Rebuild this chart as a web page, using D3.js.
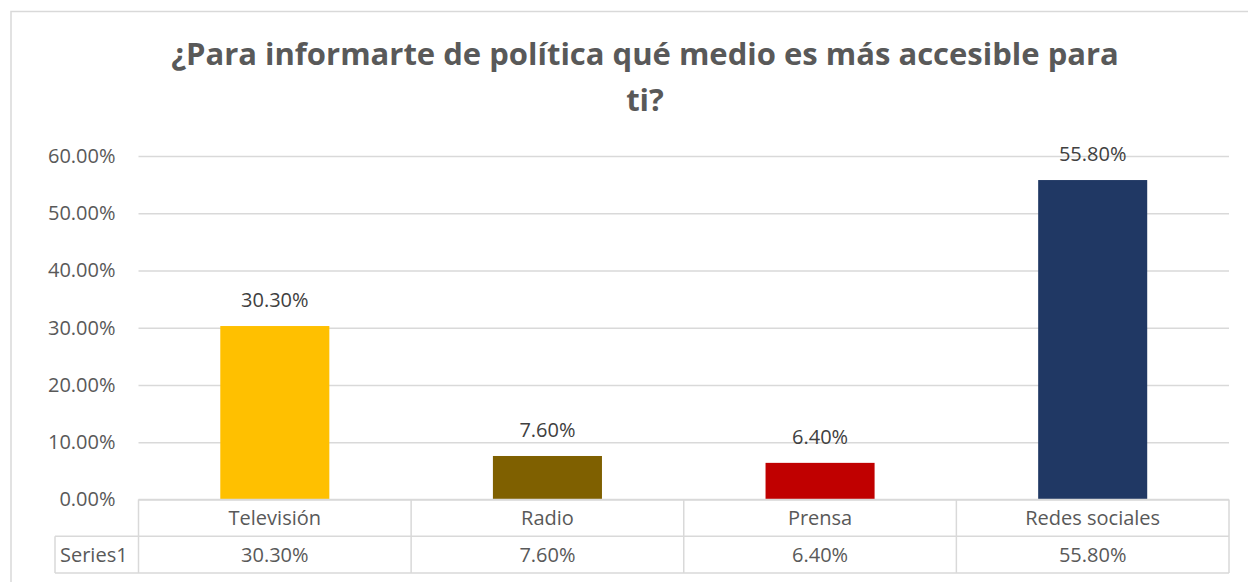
<!DOCTYPE html>
<html>
<head>
<meta charset="utf-8">
<script src="https://cdn.jsdelivr.net/npm/d3@7"></script>
<style>
  body { margin: 0; background: #fff; }
  text { font-family: "Open Sans", "Liberation Sans", sans-serif; }
</style>
</head>
<body>
<div id="chart"></div>
<script>
var categories = ["Televisión", "Radio", "Prensa", "Redes sociales"];
var values = [30.3, 7.6, 6.4, 55.8];
var barColors = ["#FFC000", "#7F6000", "#C00000", "#203864"];
var yTicks = [0, 10, 20, 30, 40, 50, 60];
var seriesName = "Series1";
var titleLines = ["¿Para informarte de política qué medio es más accesible para", "ti?"];

var svgWidth = 1248;
var svgHeight = 582;

var plot = { left: 138.5, right: 1229, top: 156, bottom: 499.5 };
var rowH = 36.75;
var seriesCellLeft = 55;
var grid = "#D9D9D9";

var svg = d3.select("#chart").append("svg").attr("width", svgWidth).attr("height", svgHeight);

// chart frame (runs off the right and bottom of the picture)
svg.append("rect").attr("x", 11).attr("y", 11.5).attr("width", 1268).attr("height", 620)
    .attr("fill", "#fff").attr("stroke", grid).attr("stroke-width", 1.5);

// title
var titleCenter = 645;
svg.selectAll(".title").data(titleLines).enter().append("text")
    .attr("class", "title")
    .attr("x", titleCenter)
    .attr("y", (d, i) => 65 + i * 46)
    .attr("text-anchor", "middle")
    .attr("font-size", "31px")
    .attr("font-weight", "bold")
    .attr("fill", "#595959")
    .text(d => d);

var xScale = d3.scaleBand().domain(categories).range([plot.left, plot.right])
    .paddingInner(0.6).paddingOuter(0.3);
var yScale = d3.scaleLinear().domain([0, 60]).range([plot.bottom, plot.top]);

// gridlines + tick labels via the axis
var leftAxis = d3.axisLeft(yScale).tickValues(yTicks)
    .tickSize(-(plot.right - plot.left)).tickPadding(23)
    .tickFormat(d => d.toFixed(2) + "%");

var yAxis = svg.append("g").attr("transform", `translate(${plot.left},0)`).call(leftAxis);
yAxis.select(".domain").remove();
yAxis.selectAll(".tick line").attr("stroke", grid).attr("stroke-width", 1.5);
yAxis.selectAll(".tick text").attr("fill", "#595959").attr("font-size", "20px")
    .attr("font-family", "Open Sans");

// bars
svg.selectAll(".bar").data(values).enter().append("rect")
    .attr("class", "bar")
    .attr("x", (d, i) => xScale(categories[i]))
    .attr("y", d => yScale(d))
    .attr("width", xScale.bandwidth())
    .attr("height", d => yScale(0) - yScale(d))
    .attr("fill", (d, i) => barColors[i]);

// data labels
svg.selectAll(".label").data(values).enter().append("text")
    .attr("class", "label")
    .attr("x", (d, i) => xScale(categories[i]) + xScale.bandwidth() / 2)
    .attr("y", d => yScale(d) - 19)
    .attr("text-anchor", "middle")
    .attr("font-size", "20px")
    .attr("fill", "#404040")
    .text(d => d.toFixed(2) + "%");

// data table under the axis
var step = xScale.step();
var edges = categories.map((c, i) => plot.left + i * step).concat([plot.right]);
var table = svg.append("g");

var hLines = [
    { x1: plot.left, x2: plot.right, y: plot.bottom },
    { x1: seriesCellLeft, x2: plot.right, y: plot.bottom + rowH },
    { x1: seriesCellLeft, x2: plot.right, y: plot.bottom + 2 * rowH }
];
table.selectAll(".hl").data(hLines).enter().append("line")
    .attr("x1", d => d.x1).attr("x2", d => d.x2)
    .attr("y1", d => d.y).attr("y2", d => d.y)
    .attr("stroke", grid).attr("stroke-width", 1.5);

table.selectAll(".vl").data(edges).enter().append("line")
    .attr("x1", d => d).attr("x2", d => d)
    .attr("y1", plot.bottom).attr("y2", plot.bottom + 2 * rowH)
    .attr("stroke", grid).attr("stroke-width", 1.5);

table.append("line")
    .attr("x1", seriesCellLeft).attr("x2", seriesCellLeft)
    .attr("y1", plot.bottom + rowH).attr("y2", plot.bottom + 2 * rowH)
    .attr("stroke", grid).attr("stroke-width", 1.5);

table.selectAll(".cat").data(categories).enter().append("text")
    .attr("x", d => xScale(d) + xScale.bandwidth() / 2)
    .attr("y", plot.bottom + 25.5)
    .attr("text-anchor", "middle")
    .attr("font-size", "20px")
    .attr("fill", "#595959")
    .text(d => d);

table.selectAll(".val").data(values).enter().append("text")
    .attr("x", (d, i) => xScale(categories[i]) + xScale.bandwidth() / 2)
    .attr("y", plot.bottom + rowH + 26)
    .attr("text-anchor", "middle")
    .attr("font-size", "20px")
    .attr("fill", "#595959")
    .text(d => d.toFixed(2) + "%");

table.append("text")
    .attr("x", seriesCellLeft + 5)
    .attr("y", plot.bottom + rowH + 26)
    .attr("font-size", "20px")
    .attr("fill", "#595959")
    .text(seriesName);
</script>
</body>
</html>
